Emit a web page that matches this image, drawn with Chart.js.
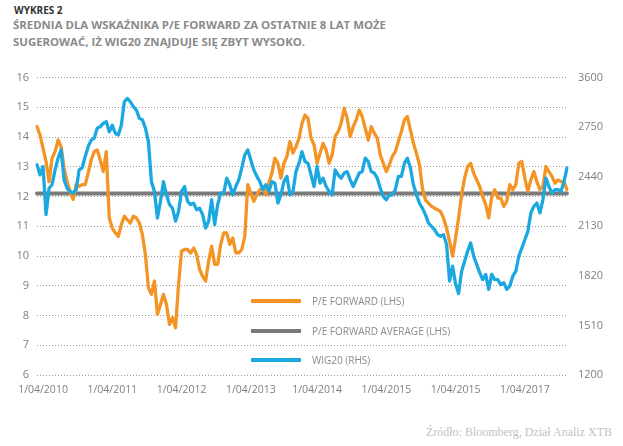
<!DOCTYPE html>
<html lang="pl">
<head>
<meta charset="utf-8">
<title>Wykres 2</title>
<script src="https://cdn.jsdelivr.net/npm/chart.js@4.4.0/dist/chart.umd.min.js"></script>
<style>
  html, body { margin: 0; padding: 0; background: #fff; }
  body { width: 623px; height: 446px; position: relative; overflow: hidden; font-family: 'Open Sans', sans-serif; }
  .kicker { position: absolute; left: 14px; top: 3px; font-size: 10px; font-weight: 700; color: #333; }
  .title { position: absolute; left: 13px; top: 16px; font-size: 11.4px; font-weight: 700; color: #8a8a8a; line-height: 17px; }
  .chart-box { position: absolute; left: 0; top: 60px; width: 623px; height: 340px; }
  .legend { position: absolute; left: 251px; top: 286px; }
  .legend-row { display: flex; align-items: center; height: 29.7px; font-size: 10px; color: #8a8a8a; }
  .legend-swatch { width: 50px; height: 4px; margin-right: 11px; }
  .source { position: absolute; right: 11px; top: 425px; font-family: 'Liberation Serif', serif; font-size: 12px; color: #c2c2c2; }
</style>
</head>
<body>
<div class="kicker">WYKRES 2</div>
<div class="title">ŚREDNIA DLA WSKAŹNIKA P/E FORWARD ZA OSTATNIE 8 LAT MOŻE<br>SUGEROWAĆ, IŻ WIG20 ZNAJDUJE SIĘ ZBYT WYSOKO.</div>

<div class="chart-box"><canvas id="peChart"></canvas></div>

<div class="legend">
  <div class="legend-row"><span class="legend-swatch" style="background:#f39424"></span>P/E FORWARD (LHS)</div>
  <div class="legend-row"><span class="legend-swatch" style="background:#7a7a7a"></span>P/E FORWARD AVERAGE (LHS)</div>
  <div class="legend-row"><span class="legend-swatch" style="background:#1ba8e0"></span>WIG20 (RHS)</div>
</div>

<div class="source">Źródło: Bloomberg, Dział Analiz XTB</div>

<script>
// ---- data (roughly one point every 16 days) ----
const peForward = [
  14.35, 14.07, 13.63, 13.18, 12.5, 13.29, 13.51, 13.9, 13.68, 12.96,
  12.5, 12.17, 11.9, 12.4, 12.34, 12.4, 12.4, 12.79, 13.23, 13.51,
  13.57, 13.23, 12.84, 13.51, 11.28, 10.94, 10.78, 10.66, 11.05, 11.34,
  11.22, 11.11, 11.34, 11.28, 11.11, 10.72, 10.05, 8.93, 8.71, 9.16,
  8.04, 8.37, 8.71, 8.37, 7.7, 7.93, 7.59, 9.04, 10.16, 10.22,
  10.22, 10.1, 10.27, 10.05, 9.55, 9.32, 9.16, 9.83, 10.33, 9.72,
  9.72, 10.39, 10.78, 10.78, 10.39, 10.61, 10.11, 10.11, 10.22, 10.66,
  12.4, 12.12, 11.84, 12.06, 12.23, 12.28, 12.06, 12.45, 12.79, 13.29,
  13.12, 12.62, 13.12, 13.35, 13.85, 13.46, 13.68, 13.96, 14.46, 14.74,
  14.63, 13.96, 13.74, 13.12, 13.46, 13.79, 13.57, 13.12, 13.4, 14.02,
  14.18, 14.46, 14.97, 14.63, 14.02, 14.35, 14.58, 14.91, 14.69, 14.3,
  13.9, 14.35, 14.13, 13.96, 13.4, 13.12, 12.84, 13.07, 13.35, 13.51,
  13.85, 14.18, 14.58, 14.69, 14.24, 13.79, 13.46, 13.07, 12.28, 11.89,
  11.78, 11.67, 11.61, 11.56, 11.5, 11.28, 10.94, 10.5, 10.0, 10.6,
  11.28, 12.06, 12.62, 13.01, 13.12, 12.79, 12.56, 12.34, 12.0, 11.73,
  11.28, 12.0, 12.23, 11.95, 11.95, 11.67, 11.84, 12.4, 12.23, 12.4,
  13.12, 13.18, 12.62, 12.17, 12.56, 12.84, 12.5, 12.23, 12.34, 13.01,
  12.84, 12.68, 12.45, 12.56, 12.5, 12.5, 12.23
];

const wig20 = [
  2515, 2452, 2504, 2203, 2368, 2390, 2483, 2556, 2608, 2420,
  2368, 2348, 2338, 2359, 2483, 2495, 2567, 2628, 2669, 2681,
  2744, 2753, 2774, 2785, 2721, 2762, 2712, 2701, 2762, 2909,
  2930, 2909, 2878, 2857, 2805, 2796, 2744, 2660, 2409, 2348,
  2182, 2286, 2409, 2327, 2266, 2243, 2162, 2223, 2348, 2379,
  2286, 2266, 2275, 2234, 2243, 2203, 2119, 2162, 2296, 2141,
  2266, 2338, 2338, 2431, 2390, 2327, 2379, 2420, 2495, 2576,
  2608, 2545, 2483, 2442, 2409, 2359, 2390, 2348, 2409, 2400,
  2275, 2327, 2409, 2442, 2327, 2348, 2472, 2524, 2597, 2535,
  2524, 2452, 2379, 2504, 2400, 2431, 2379, 2348, 2327, 2483,
  2452, 2431, 2463, 2472, 2420, 2379, 2420, 2463, 2472, 2556,
  2535, 2472, 2463, 2431, 2368, 2316, 2296, 2327, 2327, 2359,
  2442, 2442, 2524, 2556, 2495, 2390, 2327, 2275, 2243, 2203,
  2150, 2130, 2110, 2078, 2067, 2078, 2017, 1788, 1881, 1770,
  1710, 1849, 1912, 1974, 2026, 1944, 1892, 1840, 1797, 1829,
  1736, 1829, 1797, 1797, 1765, 1777, 1736, 1756, 1818, 1849,
  1944, 1994, 2046, 2098, 2214, 2255, 2275, 2214, 2296, 2431,
  2379, 2338, 2359, 2359, 2348, 2409, 2495
];

const peAverage = 12.1;

// labels exactly as printed (including the doubled 2015)
const xTickLabels = ['1/04/2010', '1/04/2011', '1/04/2012', '1/04/2013', '1/04/2014', '1/04/2015', '1/04/2015', '1/04/2017'];
const rightTickLabels = ['1200', '1510', '1820', '2130', '2440', '2750', '3600'];

// ---- category axis: one date per sample ----
const startDate = new Date(2010, 2, 6);
const stepDays = 16;
const dates = peForward.map((_, i) => new Date(startDate.getTime() + i * stepDays * 86400000));
const categories = dates.map(d => d.toISOString().slice(0, 10));

// first sample on/after 1 April of each year gets a label
const tickIdx = [];
for (let y = 2010; y <= 2017; y++) {
  const cut = new Date(y, 3, 1);
  const i = dates.findIndex(d => d >= cut);
  if (i >= 0) tickIdx.push(i);
}

Chart.defaults.font.family = "'Open Sans', sans-serif";
Chart.defaults.font.size = 11;
Chart.defaults.color = '#808080';

new Chart(document.getElementById('peChart'), {
  type: 'line',
  data: {
    labels: categories,
    datasets: [
      { label: 'WIG20 (RHS)', data: wig20, yAxisID: 'yR', borderColor: '#1ba8e0', borderWidth: 3.3, order: 0 },
      { label: 'P/E FORWARD (LHS)', data: peForward, yAxisID: 'y', borderColor: '#f39424', borderWidth: 3.3, order: 1 },
      { label: 'P/E FORWARD AVERAGE (LHS)', data: categories.map(() => peAverage), yAxisID: 'y', borderColor: '#7a7a7a', borderWidth: 4, order: 2 }
    ]
  },
  options: {
    responsive: true, maintainAspectRatio: false, animation: false,
    layout: { padding: { top: 16, left: 0, right: 0, bottom: 0 } },
    elements: { point: { radius: 0 }, line: { tension: 0, borderJoinStyle: 'round', borderCapStyle: 'round' } },
    plugins: { legend: { display: false }, tooltip: { enabled: false } },
    scales: {
      x: {
        grid: { display: false, drawTicks: false },
        border: { display: false },
        afterFit: s => { s.height = 25; },
        ticks: {
          autoSkip: false, maxRotation: 0, minRotation: 0, padding: 9,
          font: { size: 10.5 },
          callback: (v, i) => {
            const k = tickIdx.indexOf(i);
            return k >= 0 ? xTickLabels[k] : null;
          }
        }
      },
      y: {
        position: 'left', min: 6, max: 16,
        afterFit: s => { s.width = 37; },
        grid: { color: '#9c9c9c', lineWidth: 1, drawTicks: false },
        border: { display: false, dash: [1, 2] },
        ticks: { stepSize: 1, padding: 8 }
      },
      yR: {
        position: 'right', min: 1200, max: 3060,
        afterFit: s => { s.width = 56; },
        grid: { display: false, drawTicks: false },
        border: { display: false },
        ticks: { stepSize: 310, padding: 11, callback: (v, i) => rightTickLabels[i] }
      }
    }
  }
});
</script>
</body>
</html>
